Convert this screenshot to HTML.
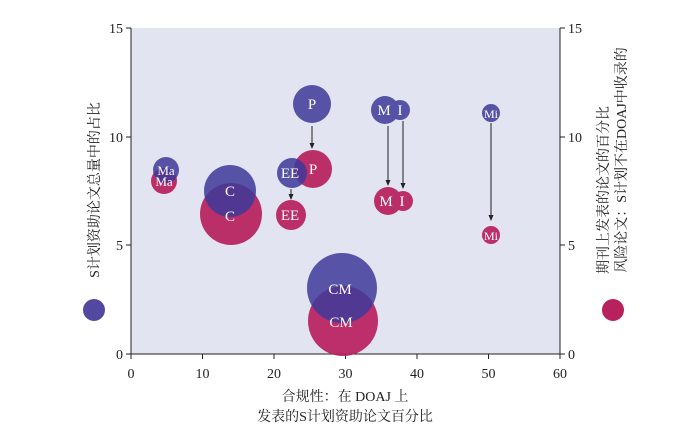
<!DOCTYPE html><html><head><meta charset="utf-8"><style>body{margin:0;background:#fff}svg{display:block}text{font-family:"Liberation Serif","Noto Serif CJK SC",serif}</style></head><body>
<svg width="680" height="434" xmlns="http://www.w3.org/2000/svg">
<rect x="131" y="28" width="429" height="326" fill="#e3e4f1"/>
<g stroke="#222" stroke-width="1" fill="none">
<line x1="131" y1="28" x2="131" y2="354"/><line x1="560" y1="28" x2="560" y2="354"/><line x1="131" y1="354" x2="560" y2="354"/>
<line x1="126" y1="28" x2="131" y2="28"/><line x1="126" y1="137" x2="131" y2="137"/><line x1="126" y1="245" x2="131" y2="245"/><line x1="126" y1="354" x2="131" y2="354"/>
<line x1="560" y1="28" x2="565" y2="28"/><line x1="560" y1="137" x2="565" y2="137"/><line x1="560" y1="245" x2="565" y2="245"/><line x1="560" y1="354" x2="565" y2="354"/>
<line x1="131" y1="354" x2="131" y2="359"/><line x1="202.5" y1="354" x2="202.5" y2="359"/><line x1="274" y1="354" x2="274" y2="359"/><line x1="345.5" y1="354" x2="345.5" y2="359"/><line x1="417" y1="354" x2="417" y2="359"/><line x1="488.5" y1="354" x2="488.5" y2="359"/><line x1="560" y1="354" x2="560" y2="359"/>
</g>
<g font-size="14" fill="#222" text-anchor="end">
<text x="123" y="33">15</text><text x="123" y="142">10</text><text x="123" y="250">5</text><text x="123" y="359">0</text></g>
<g font-size="14" fill="#222">
<text x="568" y="33">15</text><text x="568" y="142">10</text><text x="568" y="250">5</text><text x="568" y="359">0</text></g>
<g font-size="14" fill="#222" text-anchor="middle">
<text x="131" y="378">0</text><text x="202.5" y="378">10</text><text x="274" y="378">20</text><text x="345.5" y="378">30</text><text x="417" y="378">40</text><text x="488.5" y="378">50</text><text x="560" y="378">60</text>
<text x="345" y="401">合规性：在 DOAJ 上</text><text x="345" y="421">发表的S计划资助论文百分比</text></g>
<g fill="#b8205e" opacity="0.92">
<circle cx="164" cy="181" r="13"/><circle cx="231" cy="214" r="31"/><circle cx="291" cy="215" r="15"/><circle cx="313" cy="169" r="19"/><circle cx="388" cy="201" r="14"/><circle cx="403" cy="201" r="10"/><circle cx="491" cy="235" r="9"/><circle cx="343" cy="321" r="35"/></g>
<g fill="#3e3a9a" opacity="0.85">
<circle cx="166" cy="170" r="13"/><circle cx="230" cy="191" r="26"/><circle cx="292" cy="173" r="15"/><circle cx="312" cy="104" r="19"/><circle cx="385" cy="110" r="14"/><circle cx="400" cy="110" r="10"/><circle cx="491" cy="113" r="9"/><circle cx="342" cy="288" r="35"/></g>
<g stroke="#222" stroke-width="1">
<line x1="312" y1="126" x2="312" y2="148"/><line x1="388" y1="126" x2="388" y2="185"/><line x1="403" y1="121" x2="403" y2="188"/><line x1="491" y1="123" x2="491" y2="220"/><line x1="291" y1="189" x2="291" y2="199"/></g>
<g fill="#222">
<path d="M309.5,143 L314.5,143 L312,149Z"/><path d="M385.5,180 L390.5,180 L388,186Z"/><path d="M400.5,183 L405.5,183 L403,189Z"/><path d="M488.5,215 L493.5,215 L491,221Z"/><path d="M288.5,194 L293.5,194 L291,200Z"/></g>
<g fill="#fff" text-anchor="middle" font-size="15">
<text x="166" y="175" font-size="13">Ma</text><text x="164" y="186" font-size="13">Ma</text>
<text x="230" y="196">C</text><text x="230" y="221">C</text>
<text x="290" y="178">EE</text><text x="290" y="220">EE</text>
<text x="312" y="109">P</text><text x="313" y="174">P</text>
<text x="384" y="115">M</text><text x="400" y="115">I</text><text x="386" y="206">M</text><text x="402" y="206">I</text>
<text x="491" y="118" font-size="12">Mi</text><text x="491" y="240" font-size="12">Mi</text>
<text x="340" y="294">CM</text><text x="341" y="327">CM</text></g>
<circle cx="94" cy="310" r="11" fill="#5248a0"/>
<circle cx="613" cy="310" r="11" fill="#b8205e"/>
<g font-size="14" fill="#222" text-anchor="middle">
<text transform="translate(99,190) rotate(-90)">S计划资助论文总量中的占比</text>
<text transform="translate(608,190) rotate(-90)">期刊上发表的论文的百分比</text>
<text transform="translate(626,160) rotate(-90)">风险论文：S计划不在DOAJ中收录的</text></g>
</svg></body></html>
